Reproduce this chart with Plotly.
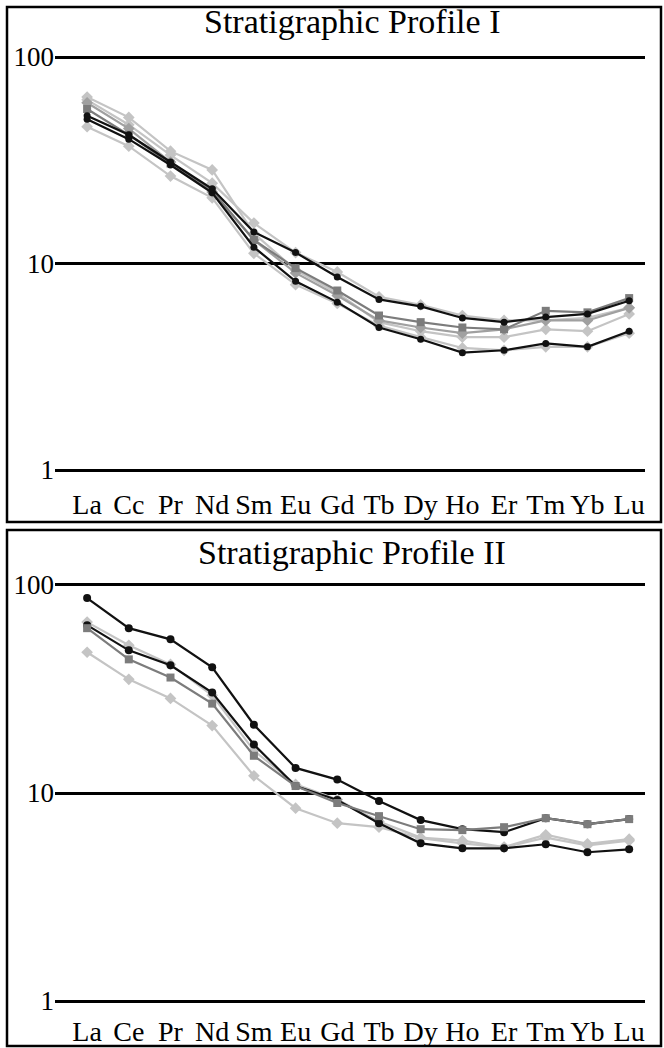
import plotly.graph_objects as go

W, H = 664, 1048

ree_top = ["La", "Cc", "Pr", "Nd", "Sm", "Eu", "Gd", "Tb", "Dy", "Ho", "Er", "Tm", "Yb", "Lu"]
ree_bot = ["La", "Ce", "Pr", "Nd", "Sm", "Eu", "Gd", "Tb", "Dy", "Ho", "Er", "Tm", "Yb", "Lu"]

# Profile I series (chondrite-normalised)
p1_black_a = [52, 42, 31, 23, 14.2, 11.3, 8.6, 6.7, 6.2, 5.45, 5.2, 5.5, 5.7, 6.6]
p1_light_a = [62, 47, 33.5, 24.5, 15.7, 11.3, 9.1, 6.9, 6.3, 5.6, 5.3, 5.3, 5.45, 6.1]
p1_dgray_sq = [56, 42, 30.5, 22.5, 13.0, 9.5, 7.4, 5.6, 5.2, 4.9, 4.8, 5.9, 5.8, 6.8]
p1_mgray = [60, 45, 31, 22.2, 13.0, 9.0, 7.0, 5.3, 4.9, 4.6, 4.8, 5.3, 5.3, 6.1]
p1_light_b = [64, 51, 35, 28.4, 14.0, 9.3, 7.2, 5.2, 4.7, 4.4, 4.4, 4.8, 4.7, 5.7]
p1_black_b = [50, 40, 30, 22, 12.0, 8.2, 6.5, 4.9, 4.3, 3.7, 3.8, 4.1, 3.95, 4.7]
p1_light_c = [46, 37, 26.5, 20.8, 11.2, 7.9, 6.4, 5.0, 4.4, 3.9, 3.8, 3.95, 3.95, 4.6]

# Profile II series
p2_black_a = [86.5, 62, 54.8, 40.2, 21.3, 13.2, 11.6, 9.15, 7.41, 6.70, 6.48, 7.57, 7.08, 7.49]
p2_light_a = [66.3, 51.3, 41.5, 29.5, 16.0, 11.0, 9.3, 7.3, 6.1, 5.9, 5.5, 6.3, 5.7, 6.0]
p2_gray_sq = [62, 43.9, 35.9, 26.9, 15.1, 10.8, 8.95, 7.74, 6.70, 6.63, 6.85, 7.57, 7.08, 7.49]
p2_black_b = [64.1, 48.5, 41.1, 30.4, 17.1, 10.8, 9.25, 7.16, 5.73, 5.42, 5.42, 5.67, 5.19, 5.36]
p2_light_b = [47.5, 35.2, 28.5, 21.1, 12.1, 8.45, 7.16, 6.85, 6.06, 5.73, 5.48, 6.1, 5.6, 5.9]

BLACK = "#111111"
DGRAY = "#7c7c7c"
MGRAY = "#a0a0a0"
LGRAY = "#c4c4c4"

top_series = [
    (p1_light_c, LGRAY, "diamond", 9),
    (p1_light_b, LGRAY, "diamond", 9),
    (p1_light_a, LGRAY, "diamond", 9),
    (p1_mgray, MGRAY, "diamond", 9),
    (p1_dgray_sq, DGRAY, "square", 8),
    (p1_black_b, BLACK, "circle", 7),
    (p1_black_a, BLACK, "circle", 7),
]
bot_series = [
    (p2_light_b, LGRAY, "diamond", 9),
    (p2_light_a, LGRAY, "diamond", 9),
    (p2_black_b, BLACK, "circle", 8),
    (p2_black_a, BLACK, "circle", 8),
    (p2_gray_sq, DGRAY, "square", 8),
]

fig = go.Figure()
for vals, col, sym, sz in top_series:
    fig.add_trace(go.Scatter(x=list(range(len(ree_top))), y=vals, mode="lines+markers",
                             line=dict(color=col, width=2.2), marker=dict(color=col, symbol=sym, size=sz),
                             xaxis="x", yaxis="y", showlegend=False))
for vals, col, sym, sz in bot_series:
    fig.add_trace(go.Scatter(x=list(range(len(ree_bot))), y=vals, mode="lines+markers",
                             line=dict(color=col, width=2.2), marker=dict(color=col, symbol=sym, size=sz),
                             xaxis="x2", yaxis="y2", showlegend=False))

FONT = "Liberation Serif"

def py(p):
    return 1 - p / H

# y domains in pixels (grid 100 -> top, grid 1 -> bottom)
top_y = (57 - 2.07, 470 + 2.07)
bot_y = (585 - 2.09, 1001 + 2.09)

xdom = [55 / W, 645 / W]
xrange = [-0.77, 13.38]

common_y = dict(type="log", range=[-0.01, 2.01], tickvals=[1, 10, 100], ticktext=["1", "10", "100"],
                showgrid=True, gridcolor="#000000", gridwidth=2.5, zeroline=False, showline=False,
                ticks="", automargin=False, tickfont=dict(family=FONT, size=27, color="#000"))
common_x = dict(range=xrange, tickmode="array", showgrid=False, zeroline=False, showline=False,
                ticks="outside", tickcolor="rgba(0,0,0,0)", automargin=False,
                tickfont=dict(family=FONT, size=28, color="#000"))

fig.update_layout(
    width=W, height=H, margin=dict(l=0, r=0, t=0, b=0, autoexpand=False),
    paper_bgcolor="white", plot_bgcolor="white",
    xaxis=dict(domain=xdom, anchor="y", tickvals=list(range(14)), ticktext=ree_top, ticklen=7, **common_x),
    yaxis=dict(domain=[py(top_y[1]), py(top_y[0])], anchor="x", **common_y),
    xaxis2=dict(domain=xdom, anchor="y2", tickvals=list(range(14)), ticktext=ree_bot, ticklen=3, **common_x),
    yaxis2=dict(domain=[py(bot_y[1]), py(bot_y[0])], anchor="x2", **common_y),
    shapes=[
        dict(type="rect", xref="paper", yref="paper", x0=7 / W, x1=661 / W,
             y0=py(522), y1=py(7), line=dict(color="#000", width=2.5)),
        dict(type="rect", xref="paper", yref="paper", x0=7 / W, x1=661 / W,
             y0=py(1046), y1=py(530), line=dict(color="#000", width=2.5)),
    ],
    annotations=[
        dict(text="Stratigraphic Profile I", xref="paper", yref="paper", x=352 / W, y=py(22),
             showarrow=False, font=dict(family=FONT, size=34, color="#000"), xanchor="center", yanchor="middle"),
        dict(text="Stratigraphic Profile II", xref="paper", yref="paper", x=352 / W, y=py(552),
             showarrow=False, font=dict(family=FONT, size=34, color="#000"), xanchor="center", yanchor="middle"),
    ],
)

fig.write_html("out.html")
